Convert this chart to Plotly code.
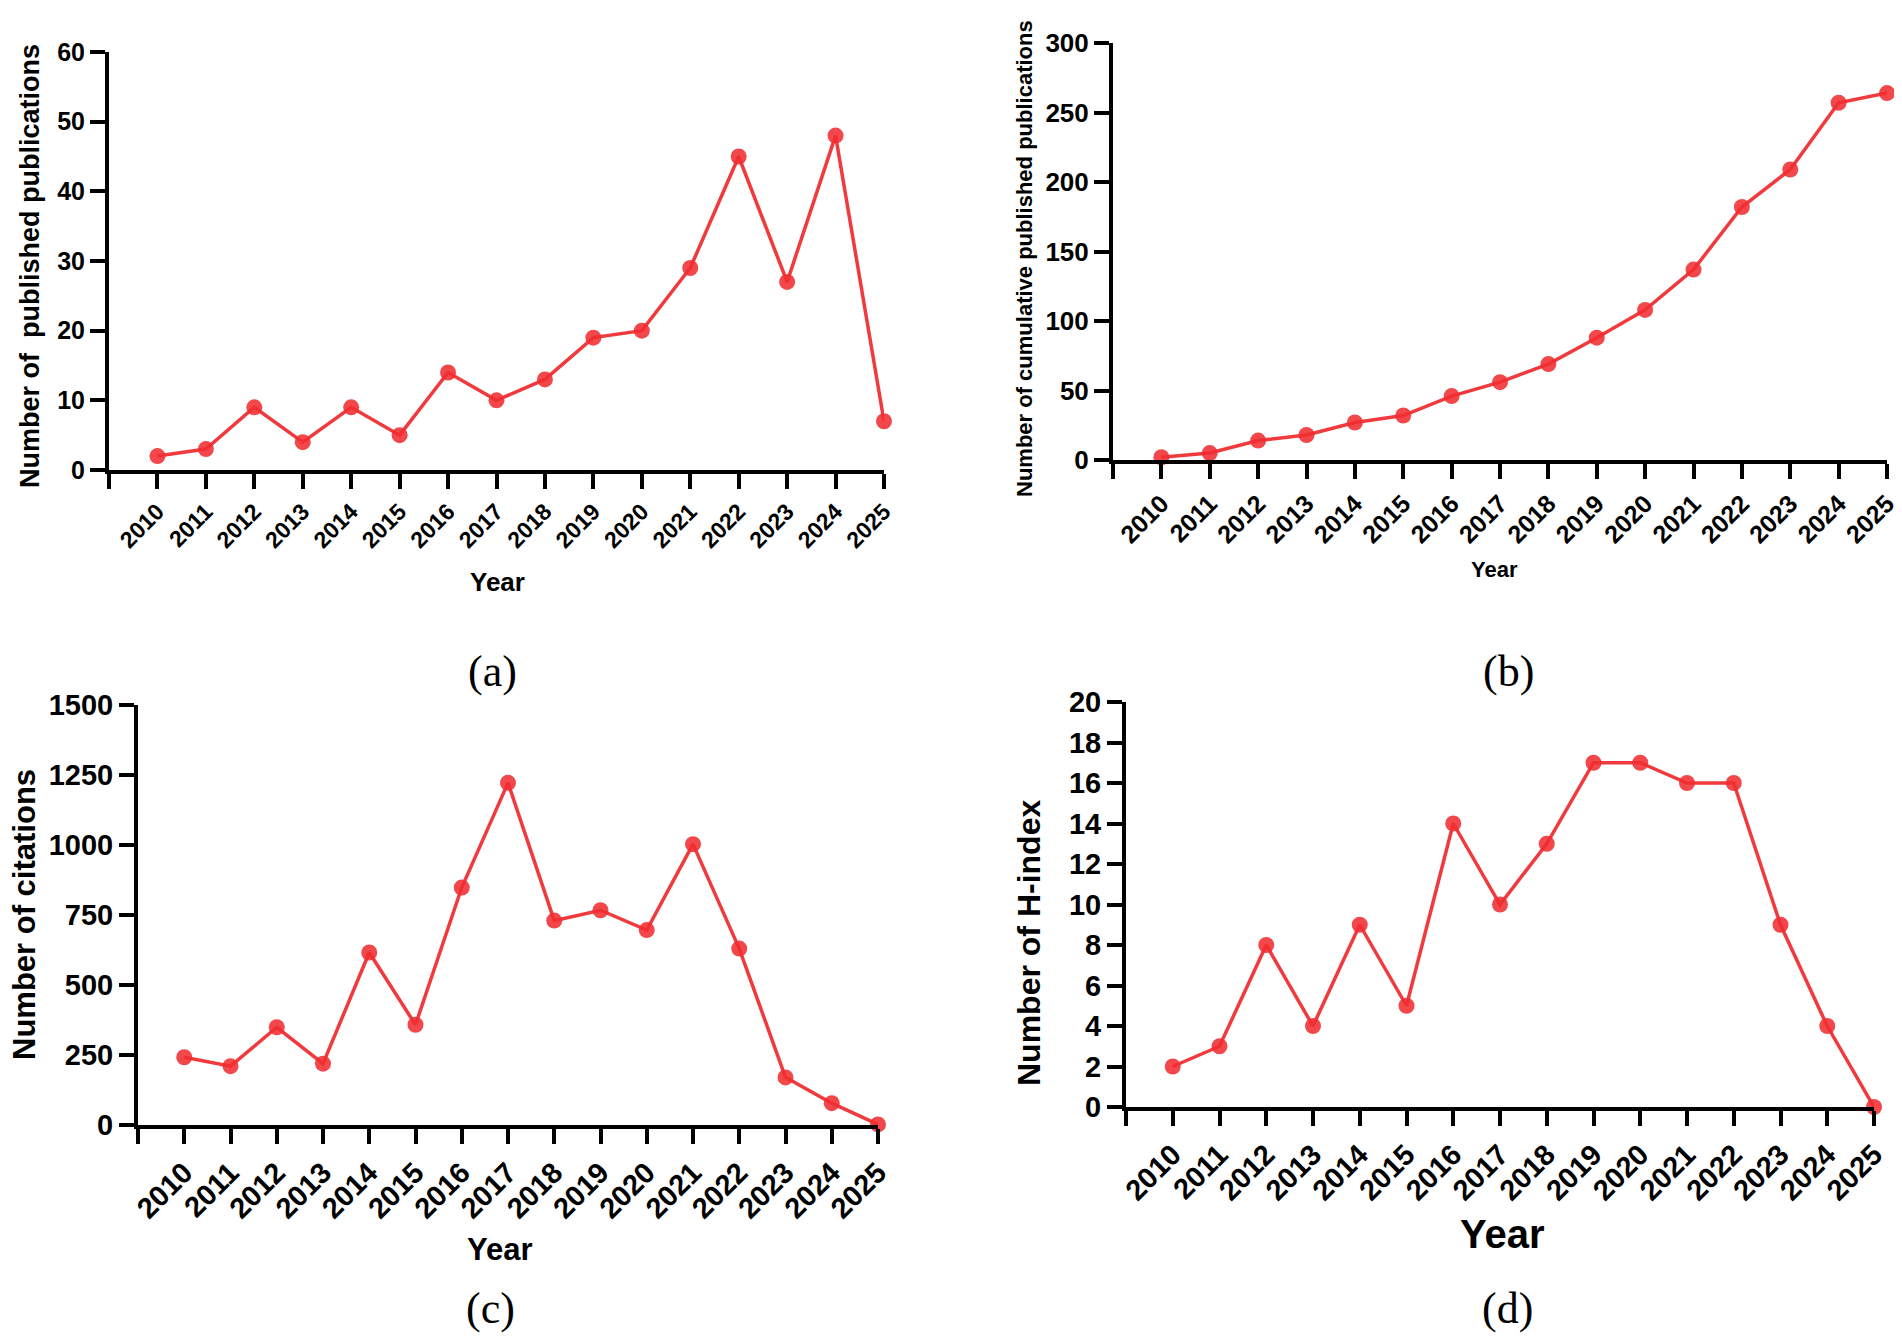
import plotly.graph_objects as go

years = list(range(2010, 2026))
publications = [2, 3, 9, 4, 9, 5, 14, 10, 13, 19, 20, 29, 45, 27, 48, 7]
cumulative = [2, 5, 14, 18, 27, 32, 46, 56, 69, 88, 108, 137, 182, 209, 257, 264]
citations = [242, 210, 349, 219, 616, 358, 848, 1222, 730, 767, 696, 1003, 630, 170, 78, 2]
h_index = [2, 3, 8, 4, 9, 5, 14, 10, 13, 17, 17, 16, 16, 9, 4, 0]

PAGE_W, PAGE_H = 1902, 1337
OFF = 8  # page body margin
W, H = PAGE_W - OFF, PAGE_H - OFF
RED_LINE = "#f03a3e"
RED_MARK = "rgba(240,45,50,0.88)"
SANS = "Liberation Sans, Arial, sans-serif"
SERIF = "Liberation Serif, Times New Roman, serif"


def px_x(v):
    return (v - OFF) / W


def px_y(v):
    return 1 - (v - OFF) / H


panels = [
    dict(vals=publications, dt=10, ymax=60, xpx=(109, 884), ypx=(52, 470),
         xts=23, yts_tick=25,
         ytitle="Number of  published publications", yts=27, ytx=30, yty=266,
         yr=26, yrx=497, yry=582, lab="(a)", labx=492, laby=671),
    dict(vals=cumulative, dt=50, ymax=300, xpx=(1113, 1887), ypx=(43, 460),
         xts=25, yts_tick=26,
         ytitle="Number of cumulative published publications", yts=22, ytx=1025, yty=258,
         yr=22, yrx=1494, yry=570, lab="(b)", labx=1508, laby=671),
    dict(vals=citations, dt=250, ymax=1500, xpx=(138, 878), ypx=(705, 1125),
         xts=29, yts_tick=29,
         ytitle="Number of citations", yts=31, ytx=25, yty=915,
         yr=31, yrx=500, yry=1249, lab="(c)", labx=490, laby=1308),
    dict(vals=h_index, dt=2, ymax=20, xpx=(1126, 1874), ypx=(702, 1107),
         xts=29, yts_tick=29,
         ytitle="Number of H-index", yts=32, ytx=1029, yty=943,
         yr=40, yrx=1502, yry=1234, lab="(d)", labx=1507, laby=1308),
]

fig = go.Figure()
annotations = []
for i, p in enumerate(panels, start=1):
    xa = "x" if i == 1 else f"x{i}"
    ya = "y" if i == 1 else f"y{i}"
    fig.add_trace(go.Scatter(
        x=years, y=p["vals"], mode="lines+markers", xaxis=xa, yaxis=ya,
        line=dict(color=RED_LINE, width=3.5),
        marker=dict(color=RED_MARK, size=16, line=dict(width=0)),
        cliponaxis=False, showlegend=False,
    ))
    xd = [px_x(p["xpx"][0]), px_x(p["xpx"][1])]
    yd = [px_y(p["ypx"][1]), px_y(p["ypx"][0])]
    xkey = "xaxis" if i == 1 else f"xaxis{i}"
    ykey = "yaxis" if i == 1 else f"yaxis{i}"
    tickvals_x = [years[0] - 1] + years
    ticktext_x = [""] + [str(y) for y in years]
    fig.update_layout(**{
        xkey: dict(domain=xd, anchor=ya, range=[years[0] - 1, years[-1]],
                   automargin=False,
                   tickmode="array", tickvals=tickvals_x, ticktext=ticktext_x,
                   tickangle=-45, ticks="outside", ticklen=15, tickwidth=4,
                   tickcolor="black", showline=True, linecolor="black", linewidth=4,
                   showgrid=False, zeroline=False,
                   tickfont=dict(family=SANS, size=p["xts"], color="black", weight="bold")),
        ykey: dict(domain=yd, anchor=xa, range=[0, p["ymax"]],
                   automargin=False,
                   tickmode="linear", tick0=0, dtick=p["dt"],
                   ticks="outside", ticklen=15, tickwidth=4, tickcolor="black",
                   showline=True, linecolor="black", linewidth=4,
                   showgrid=False, zeroline=False,
                   tickfont=dict(family=SANS, size=p["yts_tick"], color="black", weight="bold")),
    })
    annotations.append(dict(text=p["ytitle"], x=px_x(p["ytx"]), y=px_y(p["yty"]),
                            xref="paper", yref="paper", showarrow=False, textangle=-90,
                            xanchor="center", yanchor="middle",
                            font=dict(family=SANS, size=p["yts"], color="black", weight="bold")))
    annotations.append(dict(text="Year", x=px_x(p["yrx"]), y=px_y(p["yry"]),
                            xref="paper", yref="paper", showarrow=False,
                            xanchor="center", yanchor="middle",
                            font=dict(family=SANS, size=p["yr"], color="black", weight="bold")))
    annotations.append(dict(text=p["lab"], x=px_x(p["labx"]), y=px_y(p["laby"]),
                            xref="paper", yref="paper", showarrow=False,
                            xanchor="center", yanchor="middle",
                            font=dict(family=SERIF, size=44, color="black")))

fig.update_layout(
    width=W, height=H, margin=dict(l=0, r=0, t=0, b=0, autoexpand=False),
    paper_bgcolor="white", plot_bgcolor="white",
    annotations=annotations, showlegend=False,
)

fig.write_html("out.html")
